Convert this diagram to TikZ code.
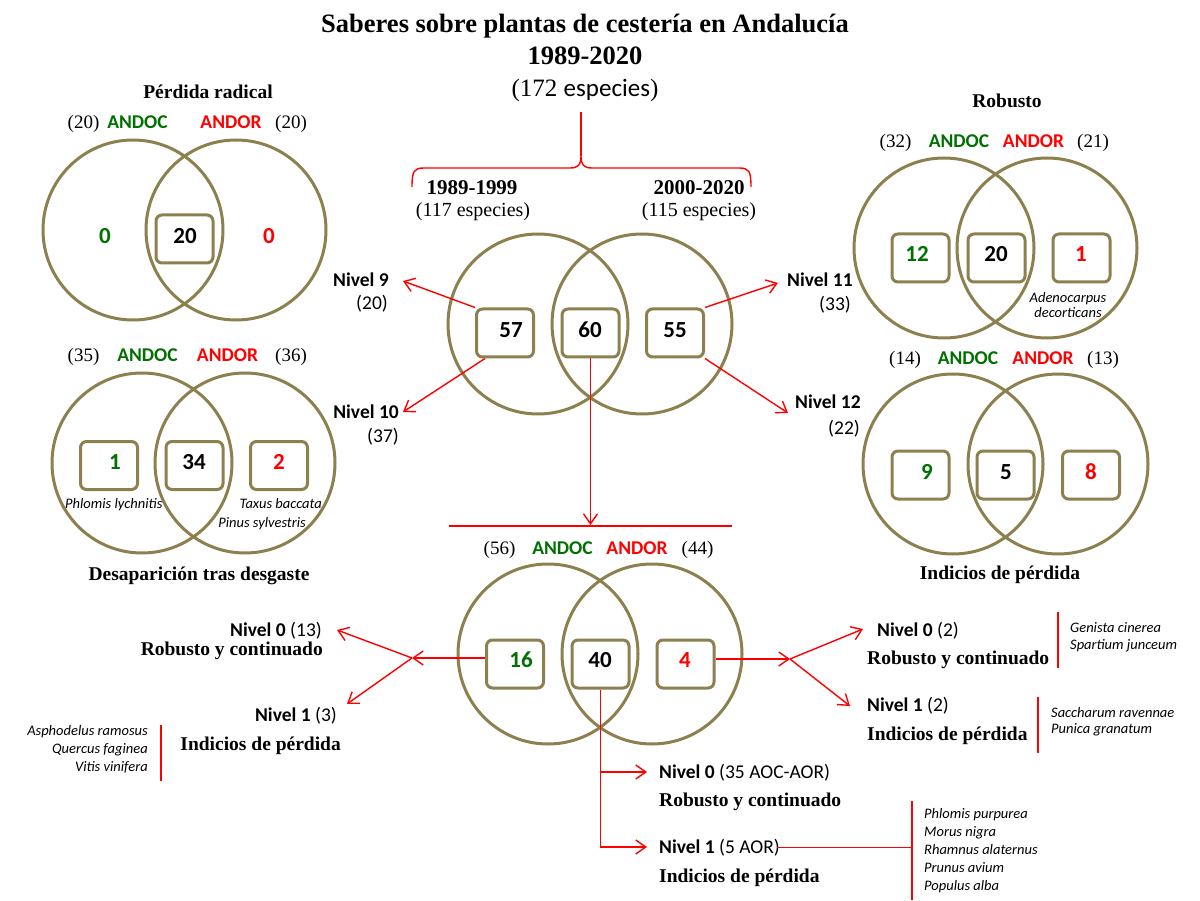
\documentclass[tikz,border=0pt]{standalone}
\usepackage{fontspec}
\setmainfont{Liberation Serif}
\newfontfamily\calfont{Carlito}
\usetikzlibrary{arrows.meta,calc}
\definecolor{olv}{RGB}{140,128,78}
\definecolor{dgreen}{RGB}{0,112,0}
\definecolor{rd}{RGB}{255,0,0}
\newcommand\fs[1]{\fontsize{#1}{#1}\selectfont}
\tikzset{
 circ/.style={circle, draw=olv, line width=3pt, minimum size=180pt, inner sep=0pt},
 bx/.style={draw=olv, line width=3pt, rounded corners=6pt, minimum width=57pt, minimum height=48pt, inner sep=0pt},
 num/.style={font=\calfont\bfseries\fs{23}, anchor=base, inner sep=0pt},
 lab/.style={font=\calfont\bfseries\fs{19.5}, anchor=base, inner sep=0pt},
 par/.style={font=\fs{19}, anchor=base, inner sep=0pt},
 head/.style={font=\bfseries\fs{19.5}, anchor=base, inner sep=0pt},
 niv/.style={font=\calfont\fs{19.5}, anchor=base, inner sep=0pt},
 sp/.style={font=\calfont\itshape\fs{14.5}, anchor=base, inner sep=0pt},
 conn/.style={draw=rd, line width=1.4pt},
 arr/.style={conn, -{Straight Barb[length=10pt,width=14pt]}},
}
\begin{document}
\begin{tikzpicture}[x=1pt,y=-1pt]
\useasboundingbox (0,0) rectangle (1200,901);
% title
\node[font=\bfseries\fs{26.5}, anchor=base, inner sep=0pt] (title) at (585,33) {Saberes sobre plantas de cestería en Andalucía};
\node[font=\bfseries\fs{26.5}, anchor=base, inner sep=0pt] (years) at (585,65) {1989-2020};
\node[font=\fs{25}, anchor=base, inner sep=0pt] (total) at (585,97) {(172 {\calfont especies})};
% brace
\coordinate (bt) at (581,112);
\coordinate (bc) at (581,156);
\draw[conn] (bt) -- (bc);
\draw[conn] (412,187) .. controls (412,171) and (414,168) .. (424,168) -- (570,168) .. controls (578,168) and (581,165) .. (bc) .. controls (581,165) and (584,168) .. (592,168) -- (739,168) .. controls (749,168) and (751,171) .. (751,187);
\node[font=\bfseries\fs{21}, anchor=base, inner sep=0pt] (p1) at (472,195) {1989-1999};
\node[font=\fs{20}, anchor=base, inner sep=0pt] (p1n) at (473,217) {(117 especies)};
\node[font=\bfseries\fs{21}, anchor=base, inner sep=0pt] (p2) at (699,195) {2000-2020};
\node[font=\fs{20}, anchor=base, inner sep=0pt] (p2n) at (699,217) {(115 especies)};

% ---- top-left venn: Perdida radical
\node[head] (hTL) at (208,99) {Pérdida radical};
\node[par] (tlp1) at (83.5,129) {(20)};
\node[lab, dgreen] (tlg) at (137.5,129) {ANDOC};
\node[lab, rd] (tlr) at (231,129) {ANDOR};
\node[par] (tlp2) at (291,129) {(20)};
\node[circ] (tlA) at (133,230) {};
\node[circ] (tlB) at (236,230) {};
\node[bx] (tlbx) at (184.5,239) {};
\node[num, dgreen] (tln1) at (105,244) {0};
\node[num] (tln2) at (185,244) {20};
\node[num, rd] (tln3) at (269,244) {0};

% ---- bottom-left venn: Desaparicion
\node[par] (blp1) at (83.5,362) {(35)};
\node[lab, dgreen] (blg) at (147.5,362) {ANDOC};
\node[lab, rd] (blr) at (227.5,362) {ANDOR};
\node[par] (blp2) at (291,362) {(36)};
\node[circ] (blA) at (142,463) {};
\node[circ] (blB) at (245,463) {};
\node[bx] (blb1) at (109,465.5) {};
\node[bx] (blb2) at (194.5,465.5) {};
\node[bx] (blb3) at (279,465.5) {};
\node[num, dgreen] (bln1) at (115,469) {1};
\node[num] (bln2) at (194,469) {34};
\node[num, rd] (bln3) at (279,469) {2};
\node[sp, anchor=base west] (bls1) at (65,508) {Phlomis lychnitis};
\node[sp, anchor=base east] (bls2) at (322,508) {Taxus baccata};
\node[sp, anchor=base east] (bls3) at (306,527) {Pinus sylvestris};
\node[head] (hBL) at (199,580) {Desaparición tras desgaste};

% ---- top-right venn: Robusto
\node[head] (hTR) at (1007,108) {Robusto};
\node[par] (trp1) at (895.5,148) {(32)};
\node[lab, dgreen] (trg) at (959,148) {ANDOC};
\node[lab, rd] (trr) at (1033.5,148) {ANDOR};
\node[par] (trp2) at (1093,148) {(21)};
\node[circ] (trA) at (944,248) {};
\node[circ] (trB) at (1047,248) {};
\node[bx] (trb1) at (920.5,258) {};
\node[bx] (trb2) at (996.5,258) {};
\node[bx] (trb3) at (1081.5,258) {};
\node[num, dgreen] (trn1) at (917,262) {12};
\node[num] (trn2) at (996,262) {20};
\node[num, rd] (trn3) at (1081,262) {1};
\node[sp] (trs1) at (1068,303) {Adenocarpus};
\node[sp] (trs2) at (1068,318) {decorticans};

% ---- bottom-right venn: Indicios
\node[par] (brp1) at (905,365) {(14)};
\node[lab, dgreen] (brg) at (968,365) {ANDOC};
\node[lab, rd] (brr) at (1043,365) {ANDOR};
\node[par] (brp2) at (1103,365) {(13)};
\node[circ] (brA) at (953,464) {};
\node[circ] (brB) at (1058,464) {};
\node[bx] (brb1) at (920.5,475) {};
\node[bx] (brb2) at (1005.5,475) {};
\node[bx] (brb3) at (1091,475) {};
\node[num, dgreen] (brn1) at (927,479) {9};
\node[num] (brn2) at (1006,479) {5};
\node[num, rd] (brn3) at (1091,479) {8};
\node[head] (hBR) at (1000,579) {Indicios de pérdida};

% ---- centre top venn
\node[circ] (cA) at (538,324) {};
\node[circ] (cB) at (642,324) {};
\node[bx] (b57) at (505,333) {};
\node[bx] (b60) at (590.5,333) {};
\node[bx] (b55) at (675,333) {};
\node[num] (n57) at (511,338) {57};
\node[num] (n60) at (590,338) {60};
\node[num] (n55) at (675,338) {55};
\node[niv, anchor=base east] (nv9) at (389,287) {\bfseries Nivel 9};
\node[niv, anchor=base east] (nv9n) at (388,310) {(20)};
\node[niv, anchor=base east] (nv10) at (399,418) {\bfseries Nivel 10};
\node[niv, anchor=base east] (nv10n) at (399,442) {(37)};
\node[niv, anchor=base west] (nv11) at (787,287) {\bfseries Nivel 11};
\node[niv, anchor=base east] (nv11n) at (851,311) {(33)};
\node[niv, anchor=base west] (nv12) at (795,409) {\bfseries Nivel 12};
\node[niv, anchor=base east] (nv12n) at (860,434) {(22)};
\coordinate (t9) at (403,281);
\coordinate (t10) at (403,412);
\coordinate (t11) at (778,283);
\coordinate (t12) at (788,413);
\coordinate (tdown) at (590.5,525);
\coordinate (hl1) at (449,526);
\coordinate (hl2) at (732,526);
\draw[arr] (b57.north west) -- (t9);
\draw[arr] ($(b57.south west)+(10,0)$) -- (t10);
\draw[arr] (b55.north east) -- (t11);
\draw[arr] (b55.south east) -- (t12);
\draw[arr] (b60.south) -- (tdown);
\draw[conn] (hl1) -- (hl2);

% ---- bottom centre venn
\node[par] (bcp1) at (499.5,554) {(56)};
\node[lab, dgreen] (bcg) at (562.5,554) {ANDOC};
\node[lab, rd] (bcr) at (637,554) {ANDOR};
\node[par] (bcp2) at (697.5,554) {(44)};
\node[circ] (bA) at (548,654) {};
\node[circ] (bB) at (652,654) {};
\node[bx] (b16) at (515,664) {};
\node[bx] (b40) at (600.5,664) {};
\node[bx] (b4) at (685.5,664) {};
\node[num, dgreen] (n16) at (521,667) {16};
\node[num] (n40) at (600,667) {40};
\node[num, rd] (n4) at (685,667) {4};

% left branch
\coordinate (jl) at (412,658);
\coordinate (tl0) at (337,630);
\coordinate (tl1) at (347,704);
\draw[arr] (b16.west |- jl) -- (jl);
\draw[arr] (jl) -- (tl0);
\draw[arr] (jl) -- (tl1);
\node[niv, anchor=base east] (ln0) at (322,636) {\textbf{Nivel 0} (13)};
\node[head, anchor=base east] (lr0) at (323,655) {Robusto y continuado};
\node[niv, anchor=base east] (ln1) at (337,721) {\textbf{Nivel 1} (3)};
\node[head, anchor=base east] (lr1) at (341,750) {Indicios de pérdida};
\node[sp, anchor=base east] (ls1) at (148,735) {Asphodelus ramosus};
\node[sp, anchor=base east] (ls2) at (148,753) {Quercus faginea};
\node[sp, anchor=base east] (ls3) at (148,771) {Vitis vinifera};
\coordinate (lv1) at (161,725);
\coordinate (lv2) at (161,781);
\draw[conn] (lv1) -- (lv2);

% right branch
\coordinate (jr) at (790,659);
\coordinate (tr0) at (863,629);
\coordinate (tr1) at (850,706);
\draw[arr] (b4.east |- jr) -- (jr);
\draw[arr] (jr) -- (tr0);
\draw[arr] (jr) -- (tr1);
\node[niv, anchor=base west] (rn0) at (877,636) {\textbf{Nivel 0} (2)};
\node[head, anchor=base west] (rr0) at (867,664) {Robusto y continuado};
\node[niv, anchor=base west] (rn1) at (867,711) {\textbf{Nivel 1} (2)};
\node[head, anchor=base west] (rr1) at (867,740) {Indicios de pérdida};
\coordinate (rv1) at (1058,612);
\coordinate (rv2) at (1058,668);
\draw[conn] (rv1) -- (rv2);
\coordinate (rw1) at (1038,697);
\coordinate (rw2) at (1038,753);
\draw[conn] (rw1) -- (rw2);
\node[sp, anchor=base west] (rs1) at (1070,632) {Genista cinerea};
\node[sp, anchor=base west] (rs2) at (1070,649) {Spartium junceum};
\node[sp, anchor=base west] (rs3) at (1051,717) {Saccharum ravennae};
\node[sp, anchor=base west] (rs4) at (1051,733) {Punica granatum};

% bottom branch
\coordinate (ba1) at (647,772);
\coordinate (ba2) at (647,847);
\draw[arr] (b40.south) |- (ba2);
\draw[arr] (b40.south |- ba1) -- (ba1);
\node[niv, anchor=base west] (bn0) at (659,778) {\textbf{Nivel 0} (35 AOC-AOR)};
\node[head, anchor=base west] (br0) at (659,806) {Robusto y continuado};
\node[niv, anchor=base west] (bn1) at (659,853) {\textbf{Nivel 1} (5 AOR)};
\node[head, anchor=base west] (br1) at (659,882) {Indicios de pérdida};
\coordinate (sv1) at (912,801);
\coordinate (sv2) at (912,900);
\draw[conn] (sv1) -- (sv2);
\draw[conn] ($(bn1.east)+(-3,0)$) -- (bn1.east -| sv1);
\node[sp, anchor=base west] (bs1) at (924,818) {Phlomis purpurea};
\node[sp, anchor=base west] (bs2) at (924,836) {Morus nigra};
\node[sp, anchor=base west] (bs3) at (924,854) {Rhamnus alaternus};
\node[sp, anchor=base west] (bs4) at (924,872) {Prunus avium};
\node[sp, anchor=base west] (bs5) at (924,890) {Populus alba};
\end{tikzpicture}
\end{document}
